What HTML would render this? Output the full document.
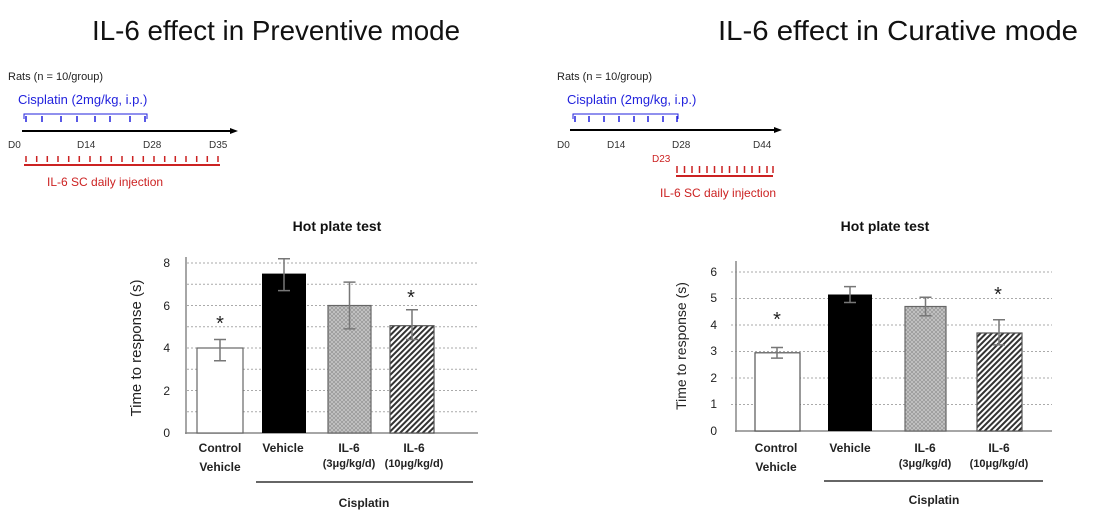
<!DOCTYPE html>
<html><head><meta charset="utf-8"><style>
html,body{margin:0;padding:0;background:#fff;}
svg{display:block;font-family:"Liberation Sans",sans-serif;}
</style></head><body>
<svg width="1100" height="519" viewBox="0 0 1100 519" xmlns="http://www.w3.org/2000/svg">
<defs>
<pattern id="cross" width="4" height="4" patternUnits="userSpaceOnUse">
<rect width="4" height="4" fill="#c8c8c8"/>
<path d="M0 0L4 4M4 0L0 4" stroke="#999" stroke-width="0.8"/>
</pattern>
<pattern id="diag" width="4" height="4" patternUnits="userSpaceOnUse" patternTransform="rotate(45)">
<rect width="4" height="4" fill="#fff"/>
<rect width="2" height="4" fill="#333"/>
</pattern>
<marker id="ah" markerUnits="userSpaceOnUse" markerWidth="8" markerHeight="8" refX="2" refY="4" orient="auto"><path d="M0 1L8 4L0 7z" fill="#000"/></marker>
</defs>

<text x="92" y="40" font-size="28" fill="#111" textLength="368" lengthAdjust="spacingAndGlyphs">IL-6 effect in Preventive mode</text>
<text x="718" y="40" font-size="28" fill="#111" textLength="360" lengthAdjust="spacingAndGlyphs">IL-6 effect in Curative mode</text>

<text x="8" y="80" font-size="11" fill="#222">Rats (n = 10/group)</text>
<text x="18" y="104" font-size="13" fill="#2222dd">Cisplatin (2mg/kg, i.p.)</text>
<path d="M24 119V114H147V119" fill="none" stroke="#2222dd" stroke-width="1"/>
<g stroke="#2222dd" stroke-width="1.5" fill="#2222dd">
<path d="M26 116V122M42 116V122M61 116V122M77 116V122M95 116V122M110 116V122M130 116V122M145 116V122"/>
</g>
<line x1="22" y1="131" x2="232" y2="131" stroke="#000" stroke-width="2" marker-end="url(#ah)"/>
<g font-size="10" fill="#333"><text x="8" y="148">D0</text><text x="77" y="148">D14</text><text x="143" y="148">D28</text><text x="209" y="148">D35</text></g>
<g stroke="#cc2222" stroke-width="1.5">
<path d="M26 156V162M36.7 156V162M47.3 156V162M58 156V162M68.7 156V162M79.3 156V162M90 156V162M100.7 156V162M111.3 156V162M122 156V162M132.7 156V162M143.3 156V162M154 156V162M164.7 156V162M175.3 156V162M186 156V162M196.7 156V162M207.3 156V162M218 156V162"/>
</g>
<line x1="24" y1="165" x2="220" y2="165" stroke="#cc2222" stroke-width="2"/>
<text x="47" y="186" font-size="12" fill="#cc2222">IL-6  SC daily injection</text>

<text x="557" y="80" font-size="11" fill="#222">Rats (n = 10/group)</text>
<text x="567" y="104" font-size="13" fill="#2222dd">Cisplatin (2mg/kg, i.p.)</text>
<path d="M573 119V114H678V119" fill="none" stroke="#2222dd" stroke-width="1"/>
<g stroke="#2222dd" stroke-width="1.5">
<path d="M575 116V122M589 116V122M604 116V122M619 116V122M634 116V122M648 116V122M663 116V122M677 116V122"/>
</g>
<line x1="570" y1="130" x2="776" y2="130" stroke="#000" stroke-width="2" marker-end="url(#ah)"/>
<g font-size="10" fill="#333"><text x="557" y="148">D0</text><text x="607" y="148">D14</text><text x="672" y="148">D28</text><text x="753" y="148">D44</text></g>
<text x="652" y="162" font-size="10" fill="#cc2222">D23</text>
<g stroke="#cc2222" stroke-width="1.5">
<path d="M677 166V173M684.5 166V173M692 166V173M699.5 166V173M707 166V173M714.5 166V173M722 166V173M729.5 166V173M737 166V173M744.5 166V173M752 166V173M759.5 166V173M767 166V173M773 166V173"/>
</g>
<line x1="676" y1="176" x2="773" y2="176" stroke="#cc2222" stroke-width="2"/>
<text x="660" y="197" font-size="12" fill="#cc2222">IL-6  SC daily injection</text>

<text x="337" y="231" font-size="14" font-weight="bold" text-anchor="middle" fill="#111">Hot plate test</text>
<g stroke="#aaa" stroke-width="1" stroke-dasharray="2,2">
<path d="M187 411.75H478M187 390.5H478M187 369.25H478M187 348H478M187 326.75H478M187 305.5H478M187 284.25H478M187 263H478"/>
</g>
<line x1="186" y1="257" x2="186" y2="434" stroke="#888" stroke-width="1.5"/>
<line x1="185" y1="433" x2="478" y2="433" stroke="#888" stroke-width="1.5"/>
<g font-size="12" fill="#222" text-anchor="end"><text x="170" y="437">0</text><text x="170" y="395">2</text><text x="170" y="352">4</text><text x="170" y="310">6</text><text x="170" y="267">8</text></g>
<text transform="translate(141,348) rotate(-90)" font-size="15" text-anchor="middle" fill="#222">Time to response (s)</text>
<rect x="197" y="348" width="46" height="85" fill="#fff" stroke="#666" stroke-width="1.2"/>
<rect x="262" y="273.6" width="44" height="159.4" fill="#000"/>
<rect x="328" y="305.5" width="43" height="127.5" fill="url(#cross)" stroke="#666" stroke-width="1.2"/>
<rect x="390" y="325.7" width="44" height="107.3" fill="url(#diag)" stroke="#555" stroke-width="1.2"/>
<g stroke="#777" stroke-width="1.5" fill="none">
<path d="M220 339.5V360.75M214 339.5H226M214 360.75H226"/>
<path d="M284 258.75V290.6M278 258.75H290M278 290.6H290"/>
<path d="M349.5 282.1V328.9M343.5 282.1H355.5M343.5 328.9H355.5"/>
<path d="M412 309.75V339.5M406 309.75H418M406 339.5H418"/>
</g>
<g font-size="20" text-anchor="middle" fill="#222"><text x="220" y="330">*</text><text x="411" y="304">*</text></g>
<g font-size="12" font-weight="bold" text-anchor="middle" fill="#222">
<text x="220" y="452">Control</text><text x="220" y="471">Vehicle</text>
<text x="283" y="452">Vehicle</text>
<text x="349" y="452">IL-6</text><text x="349" y="467" font-size="11">(3μg/kg/d)</text>
<text x="414" y="452">IL-6</text><text x="414" y="467" font-size="11">(10μg/kg/d)</text>
<text x="364" y="507">Cisplatin</text>
</g>
<line x1="256" y1="482" x2="473" y2="482" stroke="#333" stroke-width="1.5"/>

<text x="885" y="231" font-size="14" font-weight="bold" text-anchor="middle" fill="#111">Hot plate test</text>
<g stroke="#aaa" stroke-width="1" stroke-dasharray="2,2">
<path d="M731 404.5H1052M731 378H1052M731 351.5H1052M731 325H1052M731 298.5H1052M731 272H1052"/>
</g>
<line x1="736" y1="261" x2="736" y2="432" stroke="#888" stroke-width="1.5"/>
<line x1="735" y1="431" x2="1052" y2="431" stroke="#888" stroke-width="1.5"/>
<g font-size="12" fill="#222" text-anchor="end"><text x="717" y="435">0</text><text x="717" y="408">1</text><text x="717" y="382">2</text><text x="717" y="355">3</text><text x="717" y="329">4</text><text x="717" y="302">5</text><text x="717" y="276">6</text></g>
<text transform="translate(686,346) rotate(-90)" font-size="14" text-anchor="middle" fill="#222">Time to response (s)</text>
<rect x="755" y="352.8" width="45" height="78.2" fill="#fff" stroke="#555" stroke-width="1.2"/>
<rect x="828" y="294.5" width="44" height="136.5" fill="#000"/>
<rect x="905" y="306.5" width="41" height="124.5" fill="url(#cross)" stroke="#666" stroke-width="1.2"/>
<rect x="977" y="333" width="45" height="98" fill="url(#diag)" stroke="#555" stroke-width="1.2"/>
<g stroke="#777" stroke-width="1.5" fill="none">
<path d="M777 347.5V358.1M771 347.5H783M771 358.1H783"/>
<path d="M850 286.6V302.5M844 286.6H856M844 302.5H856"/>
<path d="M925.5 297.2V315.7M919.5 297.2H931.5M919.5 315.7H931.5"/>
<path d="M999 319.7V344.9M993 319.7H1005M993 344.9H1005"/>
</g>
<g font-size="20" text-anchor="middle" fill="#222"><text x="777" y="326">*</text><text x="998" y="301">*</text></g>
<g font-size="12" font-weight="bold" text-anchor="middle" fill="#222">
<text x="776" y="452">Control</text><text x="776" y="471">Vehicle</text>
<text x="850" y="452">Vehicle</text>
<text x="925" y="452">IL-6</text><text x="925" y="467" font-size="11">(3μg/kg/d)</text>
<text x="999" y="452">IL-6</text><text x="999" y="467" font-size="11">(10μg/kg/d)</text>
<text x="934" y="504">Cisplatin</text>
</g>
<line x1="824" y1="481" x2="1043" y2="481" stroke="#333" stroke-width="1.5"/>
</svg>
</body></html>
